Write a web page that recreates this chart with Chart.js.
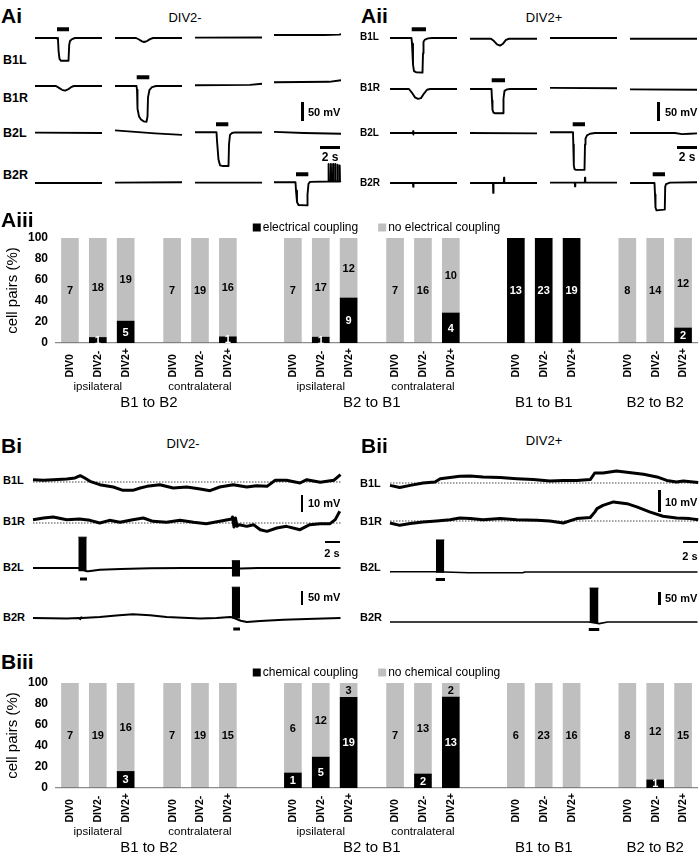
<!DOCTYPE html>
<html>
<head>
<meta charset="utf-8">
<title>Electrical and chemical coupling</title>
<script src="https://cdn.jsdelivr.net/npm/chart.js@4.4.1/dist/chart.umd.min.js"></script>
<style>
  html, body { margin: 0; padding: 0; background: #fff; }
  body { position: relative; width: 700px; height: 853px; overflow: hidden; font-family: "Liberation Sans", Arial, sans-serif; color: #000; }
  canvas { position: absolute; }
  .t { position: absolute; white-space: nowrap; line-height: 1; }
  .sb { position: absolute; background: #000; }
</style>
</head>
<body>
<script>
// ---------- bar charts: counts of cell pairs ----------
const conditions = ['DIV0', 'DIV2-', 'DIV2+'];
const sides = ['ipsilateral', 'contralateral', 'ipsilateral', 'contralateral', '', ''];
const directions = ['B1 to B2', 'B2 to B1', 'B1 to B1', 'B2 to B2'];
const elecCoupled    = [0, 1, 5,   0, 0, 1,   0, 1, 9,   0, 0, 4,   13, 23, 19,   0, 0, 2];
const elecNotCoupled = [7, 18, 19, 7, 19, 16, 7, 17, 12, 7, 16, 10, 0, 0, 0,      8, 14, 12];
const chemCoupled    = [0, 0, 3,   0, 0, 0,   1, 5, 19,  0, 2, 13,  0, 0, 0,      0, 1, 0];
const chemNotCoupled = [7, 19, 16, 7, 19, 15, 6, 12, 3,  7, 13, 2,  6, 23, 16,    8, 12, 15];

// ---------- voltage traces: [time s, mV from rest] ----------
// A panels, 4 sweeps per cell row
const aiB1L = [
  [[0,0],[2.2,0],[2.3,-5],[2.36,-35],[2.45,-55],[2.6,-60],[3.35,-60],[3.42,-18],[3.5,-8],[3.7,-3],[4.0,0],[6.7,0]],
  [[0,0],[2.1,0],[2.4,-4],[2.7,-9],[2.9,-10.5],[3.2,-8],[3.5,-3],[3.8,0],[6.7,0]],
  [[0,1],[6.7,1.5]],
  [[0,8],[5,8],[6.5,9],[6.7,10]]
];
const aiB1R = [
  [[0,0],[2.1,0],[2.4,-5],[2.7,-10],[3.0,-12],[3.3,-9],[3.6,-3],[3.9,0],[6.7,0]],
  [[0,0],[2.15,0],[2.2,-10],[2.25,-60],[2.4,-80],[2.6,-88],[2.85,-93],[3.15,-94],[3.25,-80],[3.3,-30],[3.45,-10],[3.7,-3],[4.1,0],[6.7,0]],
  [[0,2],[5.5,3],[6.7,6]],
  [[0,10],[5.5,11],[6.7,15]]
];
const aiB2L = [
  [[0,1],[6.7,0]],
  [[0,7],[2,3],[4,-1],[6.7,-5]],
  [[0,2],[2.15,2],[2.2,-20],[2.35,-70],[2.5,-85],[2.8,-87],[3.35,-87],[3.4,-30],[3.5,-5],[3.7,0],[4.0,1.5],[6.7,1.5]],
  [[0,3],[3,0],[6.7,-2]]
];
const aiB2R = [
  [[0,0],[6.7,0]],
  [[0,1],[6.7,2]],
  [[0,1],[6.7,1]],
  [[0,2],[2.15,2],[2.2,-20],[2.3,-50],[2.45,-58],[3.3,-59],[3.35,-30],[3.45,-2],[3.6,3],[5.4,4],
   [5.45,4],[5.47,50],[5.5,4],[5.67,4],[5.69,50],[5.72,4],[5.89,4],[5.91,50],[5.94,4],
   [6.11,4],[6.13,50],[6.16,4],[6.33,4],[6.35,48],[6.38,4],[6.55,4],[6.57,46],[6.6,4],[6.7,5]]
];
const aiiB1L = [
  [[0,0],[2.15,0],[2.2,-15],[2.3,-70],[2.4,-87],[2.6,-90],[3.25,-91],[3.3,-40],[3.35,-10],[3.5,-4],[3.8,-1],[4.2,0],[6.7,0]],
  [[0,-2],[2.1,-2],[2.4,-8],[2.7,-17],[3.0,-20],[3.3,-15],[3.6,-5],[3.9,-2],[6.7,-2]],
  [[0,0],[6.7,0]],
  [[0,-2],[6.7,-2]]
];
const aiiB1R = [
  [[0,0],[1.9,0],[2.2,-10],[2.5,-22],[2.8,-26],[3.1,-24],[3.4,-12],[3.7,-2],[4.0,0],[6.7,0]],
  [[0,0],[2.15,0],[2.2,-30],[2.25,-55],[2.35,-62],[2.5,-64],[3.3,-64],[3.35,-25],[3.45,-5],[3.7,-1],[4,0],[6.7,0]],
  [[0,3],[6.7,2]],
  [[0,-1],[6.7,-2]]
];
const aiiB2L = [
  [[0,0],[2.3,0],[2.31,5],[2.33,-4],[2.35,0],[6.7,0]],
  [[0,0],[6.7,-1]],
  [[0,2],[2.3,2],[2.33,-30],[2.38,-85],[2.45,-95],[2.6,-97],[3.45,-97],[3.5,-30],[3.55,-15],[3.7,-6],[4.0,-2],[4.5,0],[6.7,0]],
  [[0,0],[4.5,0],[5.2,-3],[6,-2],[6.7,-1]]
];
const aiiB2R = [
  [[0,0],[2.3,0],[2.32,-10],[2.35,0],[6.7,0]],
  [[0,0],[2.3,0],[2.32,-26],[2.35,0],[3.38,0],[3.4,14],[3.43,0],[6.7,0]],
  [[0,1],[2.48,1],[2.5,-9],[2.53,1],[3.48,1],[3.5,14],[3.53,1],[6.7,1]],
  [[0,0],[2.45,0],[2.5,-30],[2.55,-65],[2.65,-72],[3.4,-70],[3.48,-68],[3.52,-10],[3.6,-3],[4,1],[6.7,2]]
];
// [row, sweep, start s, end s]
const aiStim  = [['B1L',0,2.2,3.4], ['B1R',1,2.17,3.43], ['B2L',2,2.1,3.33], ['B2R',3,2.2,3.43]];
const aiiStim = [['B1L',0,2.17,3.6], ['B1R',1,2.17,3.5], ['B2L',2,2.27,3.5], ['B2R',3,2.27,3.5]];

// B panels, one long recording per cell
const biB1L = [[0,1.4],[1.4,1.0],[2.7,1.4],[4.5,1.8],[5.6,2.4],[6.3,3.8],[6.9,2.4],[7.6,0.4],[8.9,-1.6],[10.7,-3],[12.0,-5],[13.3,-5],[14.3,-3.6],[15.2,-2.6],[16.9,-1.6],[18.7,-3.6],[20.5,-3],[22.3,-4.2],[23.6,-5.2],[24.9,-3],[26.7,-1.6],[28.5,-3],[29.8,-2.2],[31.2,-2.6],[32.3,1],[33.8,1],[35.6,-0.6],[36.5,1.4],[38.3,-0.2],[40.1,1],[41,4.4]];
const biB1R = [[0,2],[1.4,3],[2.7,3.6],[4.5,2],[6.2,2.4],[7.6,1.6],[8.9,0],[10.2,1.6],[11.6,0.4],[13.3,2],[14.7,3],[16,1],[17.8,0.4],[19.6,1.6],[21.4,0.4],[23.1,-0.4],[24.9,1],[26.5,2.4],[26.6,3.6],[26.8,-2.4],[27.0,3],[27.2,-2],[27.5,-1],[28.5,-2],[29.4,-1],[30.3,-4],[31.2,-5],[32.5,-3],[33.8,-2],[35.6,-4],[36.9,-1],[38.3,-0.4],[39.6,-0.4],[40.3,2],[40.9,7]];
const biB2L = [[0,0],[6.0,0],[7.2,-12],[7.4,-12],[8.9,-6],[11.7,-4],[15.6,-1],[20,0],[26.4,0],[27.7,-2],[30,0],[41,0]];
const biB2R = [[0,0],[4.5,-2],[6.2,0],[6.3,-4],[6.4,2],[6.5,0],[8.9,3.6],[11.1,8.6],[13.3,13],[15.6,10],[17.8,3.6],[20,1],[22.3,-2],[24.5,0],[26.3,3.6],[26.5,3],[27.7,-10],[28.5,-14],[30.3,-11],[33.4,-6],[36.5,-4],[41,0]];
const biiB1L = [[0,-1.1],[1.3,-2.1],[2.7,-1.1],[4.4,0],[6.0,0.5],[6.7,2.0],[8.0,2.5],[9.3,3.1],[10.7,3.2],[12.4,2.8],[14.7,2.5],[16.9,2.0],[19.1,1.6],[21.3,0.9],[23.1,1.2],[24.9,1.2],[26.7,1.6],[27.3,4.6],[28.4,4.6],[30.2,5.5],[32.4,4.6],[33.8,4.0],[35.6,2.8],[36.9,1.2],[38.2,0.5],[39.1,0.9],[41.1,0.2]];
const biiB1R = [[0,-0.9],[1.3,-2.0],[2.7,-1.2],[4.4,-0.5],[6.2,0],[8.0,0.6],[9.3,1.4],[10.7,1.1],[12.4,0.6],[14.7,1.1],[16.9,0.6],[19.6,0.3],[21.3,0],[23.1,-0.9],[24.9,1.1],[26.7,1.6],[27.3,4.1],[27.6,5.7],[28.4,7.2],[29.8,8.8],[31.6,8.0],[32.9,6.5],[34.7,4.1],[36.4,2.2],[38.2,1.4],[40,1.1],[41.1,0.6]];
const biiB2L = [[0,1],[6.1,1],[7.3,0],[10.5,-3],[17.7,-3],[18,0],[41,0]];
const biiB2R = [[0,0],[26.5,0],[27.9,-6],[29,0],[41,0]];
// spike bursts: [row, start s, end s, top mV, bottom mV]
const biBursts  = [['B2L',6.04,7.16,110,-12], ['B2L',26.5,27.6,26,-30], ['B2R',26.5,27.6,110,-2]];
const biiBursts = [['B2L',6.13,7.24,120,-3], ['B2R',26.6,27.8,127,-4]];
// current injection bars: [row, start s, end s]
const biStim  = [['B2L',6.27,7.2], ['B2R',26.7,27.6]];
const biiStim = [['B2L',6.1,7.33], ['B2R',26.5,27.9]];

// ---------- layout ----------
const F = '"Liberation Sans", Arial, sans-serif';
Chart.defaults.font.family = F;
const A_PX_S = 10, A_PX_MV = 0.38, A_STIM_MV = 23;
const B_PX_S = 7.5;

function text(str, x, y, css, center) {
  const d = document.createElement('div');
  d.className = 't';
  d.textContent = str;
  d.style.cssText = `left:${x}px;top:${y}px;${css};transform:${center ? 'translate(-50%,-50%)' : 'translateY(-50%)'}`;
  document.body.appendChild(d);
}
function scaleBar(x, y, w, h) {
  const d = document.createElement('div');
  d.className = 'sb';
  d.style.cssText = `left:${x}px;top:${y}px;width:${w}px;height:${h}px`;
  document.body.appendChild(d);
}

const xy = pts => pts.map(p => ({ x: p[0], y: p[1] }));
const lineSet = (pts, w) => ({ data: xy(pts), borderColor: '#000', borderWidth: w, fill: false });

function traceChart(left, top, width, height, xMin, xMax, yMin, yMax, datasets) {
  const c = document.createElement('canvas');
  c.width = width; c.height = height;
  c.style.left = left + 'px'; c.style.top = top + 'px';
  document.body.appendChild(c);
  new Chart(c, {
    type: 'line',
    data: { datasets },
    options: {
      responsive: false, animation: false, events: [],
      layout: { padding: 0 },
      plugins: { legend: { display: false }, tooltip: { enabled: false } },
      elements: { point: { radius: 0 }, line: { tension: 0, borderJoinStyle: 'round' } },
      scales: {
        x: { type: 'linear', display: false, min: xMin, max: xMax },
        y: { type: 'linear', display: false, min: yMin, max: yMax }
      }
    }
  });
}

function drawA(rows, cols, bases, stims) {
  Object.keys(rows).forEach(name => {
    rows[name].forEach((pts, k) => {
      const ds = [lineSet(pts, 1.9)];
      stims.filter(s => s[0] === name && s[1] === k)
        .forEach(s => ds.push(lineSet([[s[2], A_STIM_MV], [s[3], A_STIM_MV]], 4)));
      traceChart(cols[k] - 3, bases[name] - 24, 74, 72,
        -3 / A_PX_S, 71 / A_PX_S, -48 / A_PX_MV, 24 / A_PX_MV, ds);
    });
  });
}

function drawB(x0, rows, cfg, bursts, stims, stimPx) {
  const tEnd = 308 / B_PX_S;
  Object.keys(rows).forEach(name => {
    const r = cfg[name];
    const ds = [lineSet(rows[name], r.lw)];
    if (r.dotted) ds.push({ data: xy([[0, 0], [tEnd, 0]]), borderColor: '#444', borderWidth: 1, borderDash: [1.5, 1.5], fill: false });
    bursts.filter(b => b[0] === name).forEach(b => ds.push({
      data: xy([[b[1], b[3]], [b[2], b[3]]]), borderColor: '#000', borderWidth: 1,
      backgroundColor: '#000', fill: { value: b[4] }
    }));
    stims.filter(s => s[0] === name).forEach(s => {
      const lvl = -stimPx / r.pxMv;
      ds.push(lineSet([[s[1], lvl], [s[2], lvl]], 3));
    });
    traceChart(x0 - 2, r.base - r.up, 312, r.up + r.down,
      -2 / B_PX_S, 310 / B_PX_S, -r.down / r.pxMv, r.up / r.pxMv, ds);
  });
}

// ---------- panel A i / ii ----------
text('Ai', 1, 14.5, 'font-size:21px;font-weight:bold');
text('DIV2-', 185, 17, 'font-size:13px', true);
[['B1L', 60], ['B1R', 98], ['B2L', 133], ['B2R', 175]].forEach(l => text(l[0], 3, l[1], 'font-size:12.5px;font-weight:bold'));
drawA({ B1L: aiB1L, B1R: aiB1R, B2L: aiB2L, B2R: aiB2R }, [35, 115, 195, 274],
  { B1L: 38, B1R: 86, B2L: 133, B2R: 182.5 }, aiStim);
scaleBar(301, 102, 3, 50 * A_PX_MV);
text('50 mV', 308, 112, 'font-size:11px;font-weight:bold');
scaleBar(320, 145.5, 2 * A_PX_S, 3);
text('2 s', 330, 157, 'font-size:12px;font-weight:bold', true);

text('Aii', 361, 14.5, 'font-size:21px;font-weight:bold');
text('DIV2+', 544, 17, 'font-size:13px', true);
[['B1L', 37], ['B1R', 88], ['B2L', 133], ['B2R', 183]].forEach(l => text(l[0], 360, l[1], 'font-size:10px;font-weight:bold'));
drawA({ B1L: aiiB1L, B1R: aiiB1R, B2L: aiiB2L, B2R: aiiB2R }, [390, 470, 550, 630],
  { B1L: 37.5, B1R: 88.5, B2L: 133.3, B2R: 182.7 }, aiiStim);
scaleBar(657, 102, 3, 50 * A_PX_MV);
text('50 mV', 665, 112, 'font-size:11px;font-weight:bold');
scaleBar(677, 145.5, 2 * A_PX_S, 3);
text('2 s', 687, 157, 'font-size:12px;font-weight:bold', true);

// ---------- panel B i / ii ----------
const biCfg = {
  B1L: { base: 482.3, pxMv: 1.67, up: 20, down: 18, dotted: true, lw: 3 },
  B1R: { base: 523.3, pxMv: 1.67, up: 22, down: 18, dotted: true, lw: 3 },
  B2L: { base: 568.3, pxMv: 0.28, up: 36, down: 16, lw: 2 },
  B2R: { base: 617.7, pxMv: 0.28, up: 36, down: 16, lw: 2 }
};
const biiCfg = {
  B1L: { base: 482.7, pxMv: 2.17, up: 22, down: 14, dotted: true, lw: 3 },
  B1R: { base: 520.7, pxMv: 2.17, up: 24, down: 12, dotted: true, lw: 3 },
  B2L: { base: 571.7, pxMv: 0.267, up: 36, down: 12, lw: 1.6 },
  B2R: { base: 621.7, pxMv: 0.267, up: 40, down: 12, lw: 1.6 }
};
text('Bi', 1, 444.5, 'font-size:21px;font-weight:bold');
text('DIV2-', 183, 443, 'font-size:13px', true);
[['B1L', 480], ['B1R', 521], ['B2L', 567], ['B2R', 617]].forEach(l => text(l[0], 3, l[1], 'font-size:11px;font-weight:bold'));
drawB(33, { B1L: biB1L, B1R: biB1R, B2L: biB2L, B2R: biB2R }, biCfg, biBursts, biStim, 11);
scaleBar(300.5, 495, 2.5, 10 * biCfg.B1L.pxMv);
text('10 mV', 308, 503, 'font-size:11px;font-weight:bold');
scaleBar(325, 540.5, 2 * B_PX_S, 2.5);
text('2 s', 332, 553, 'font-size:11px;font-weight:bold', true);
scaleBar(300.5, 591, 2.5, 50 * biCfg.B2L.pxMv);
text('50 mV', 308, 597, 'font-size:11px;font-weight:bold');

text('Bii', 361, 444.5, 'font-size:21px;font-weight:bold');
text('DIV2+', 544, 440, 'font-size:13px', true);
[['B1L', 483], ['B1R', 521], ['B2L', 567], ['B2R', 617]].forEach(l => text(l[0], 360, l[1], 'font-size:11px;font-weight:bold'));
drawB(390, { B1L: biiB1L, B1R: biiB1R, B2L: biiB2L, B2R: biiB2R }, biiCfg, biiBursts, biiStim, 7.5);
scaleBar(658, 490, 2.5, 10 * biiCfg.B1L.pxMv);
text('10 mV', 665, 502, 'font-size:11px;font-weight:bold');
scaleBar(683, 540.5, 2 * B_PX_S, 2.5);
text('2 s', 690, 556, 'font-size:11px;font-weight:bold', true);
scaleBar(658, 591.7, 2.5, 50 * biiCfg.B2L.pxMv);
text('50 mV', 665, 598, 'font-size:11px;font-weight:bold');

// ---------- bar charts ----------
const N_SLOTS = 69;
const BAR_SLOTS = [1, 4, 7, 12, 15, 18, 25, 28, 31, 36, 39, 42, 49, 52, 55, 61, 64, 67];
const DIRECTION_GROUPS = [[0, 1], [2, 3], [4], [5]];

const legendPlugin = {
  id: 'boxLegend',
  afterDraw(chart) {
    const { ctx, chartArea: a } = chart;
    const items = chart.data.datasets;
    ctx.save();
    ctx.font = '12px ' + F;
    ctx.textBaseline = 'middle';
    ctx.textAlign = 'left';
    const widths = items.map(d => 10 + ctx.measureText(d.label).width);
    const total = widths.reduce((s, w) => s + w, 0) + 20 * (items.length - 1);
    let x = (a.left + a.right) / 2 - total / 2;
    const y = a.top - 10.5;
    items.forEach((d, i) => {
      ctx.fillStyle = d.backgroundColor;
      ctx.fillRect(x, y - 4, 8, 8);
      ctx.fillStyle = '#000';
      ctx.fillText(d.label, x + 10, y + 0.5);
      x += widths[i] + 20;
    });
    ctx.restore();
  }
};
const countPlugin = {
  id: 'counts',
  afterDatasetsDraw(chart) {
    const ctx = chart.ctx;
    ctx.save();
    ctx.font = 'bold 11px ' + F;
    ctx.textAlign = 'center';
    ctx.textBaseline = 'middle';
    chart.data.datasets.forEach((d, di) => {
      chart.getDatasetMeta(di).data.forEach((el, i) => {
        const n = d.counts[i];
        if (!n) return;
        ctx.fillStyle = d.textColor;
        ctx.fillText(String(n), el.x, (el.y + el.base) / 2 + 0.5);
      });
    });
    ctx.restore();
  }
};
// category labels: rotated, all starting from the same baseline below the axis
const groupPlugin = {
  id: 'groups',
  afterDraw(chart) {
    const { ctx, chartArea: a, scales: { x } } = chart;
    ctx.save();
    ctx.fillStyle = '#000';
    ctx.font = 'bold 10.5px ' + F;
    ctx.textAlign = 'left';
    ctx.textBaseline = 'middle';
    chart.data.labels.forEach((lab, i) => {
      if (!lab) return;
      ctx.save();
      ctx.translate(x.getPixelForValue(i) + 0.5, a.bottom + 34.5);
      ctx.rotate(-Math.PI / 2);
      ctx.fillText(lab, 0, 0);
      ctx.restore();
    });
    ctx.textAlign = 'center';
    ctx.font = '11.5px ' + F;
    sides.forEach((s, g) => {
      if (s) ctx.fillText(s, x.getPixelForValue(BAR_SLOTS[g * 3 + 1]), a.bottom + 44);
    });
    ctx.font = '15px ' + F;
    DIRECTION_GROUPS.forEach((gs, k) => {
      const x0 = x.getPixelForValue(BAR_SLOTS[gs[0] * 3]);
      const x1 = x.getPixelForValue(BAR_SLOTS[gs[gs.length - 1] * 3 + 2]);
      ctx.fillText(directions[k], (x0 + x1) / 2, a.bottom + 60);
    });
    ctx.restore();
  }
};

function barChart(top, coupled, notCoupled, names) {
  const labels = new Array(N_SLOTS).fill('');
  const pc = new Array(N_SLOTS).fill(null), pn = new Array(N_SLOTS).fill(null);
  const cc = new Array(N_SLOTS).fill(0), cn = new Array(N_SLOTS).fill(0);
  BAR_SLOTS.forEach((s, i) => {
    const total = coupled[i] + notCoupled[i];
    labels[s] = conditions[i % 3];
    pc[s] = coupled[i] / total * 100;
    pn[s] = notCoupled[i] / total * 100;
    cc[s] = coupled[i];
    cn[s] = notCoupled[i];
  });
  const c = document.createElement('canvas');
  c.width = 700; c.height = 200;
  c.style.left = '0px'; c.style.top = top + 'px';
  document.body.appendChild(c);
  new Chart(c, {
    type: 'bar',
    data: {
      labels,
      datasets: [
        { label: names[0], data: pc, counts: cc, backgroundColor: '#000000', textColor: '#fff', barThickness: 17 },
        { label: names[1], data: pn, counts: cn, backgroundColor: '#bfbfbf', textColor: '#000', barThickness: 17 }
      ]
    },
    options: {
      responsive: false, animation: false, events: [],
      layout: { padding: { top: 25, right: 3, left: 0, bottom: 0 } },
      plugins: { legend: { display: false }, tooltip: { enabled: false } },
      scales: {
        x: {
          stacked: true,
          grid: { display: false, drawTicks: false },
          border: { display: true, color: '#8c8c8c', width: 1.3 },
          ticks: { display: false },
          afterFit(s) { s.height = 70; s.paddingLeft = 0; s.paddingRight = 0; }
        },
        y: {
          stacked: true, min: 0, max: 100,
          grid: { display: false, drawTicks: false },
          border: { display: false },
          ticks: { stepSize: 20, padding: 8, color: '#000', font: { size: 12, weight: 'bold' } },
          title: { display: true, text: 'cell pairs (%)', color: '#000', font: { size: 15 }, padding: { top: 4, bottom: 0 } },
          afterFit(s) { s.width = 56; }
        }
      }
    },
    plugins: [legendPlugin, countPlugin, groupPlugin]
  });
}

text('Aiii', 1, 219, 'font-size:21px;font-weight:bold');
barChart(213, elecCoupled, elecNotCoupled, ['electrical coupling', 'no electrical coupling']);
text('Biii', 1, 660.5, 'font-size:21px;font-weight:bold');
barChart(658, chemCoupled, chemNotCoupled, ['chemical coupling', 'no chemical coupling']);
</script>
</body>
</html>
